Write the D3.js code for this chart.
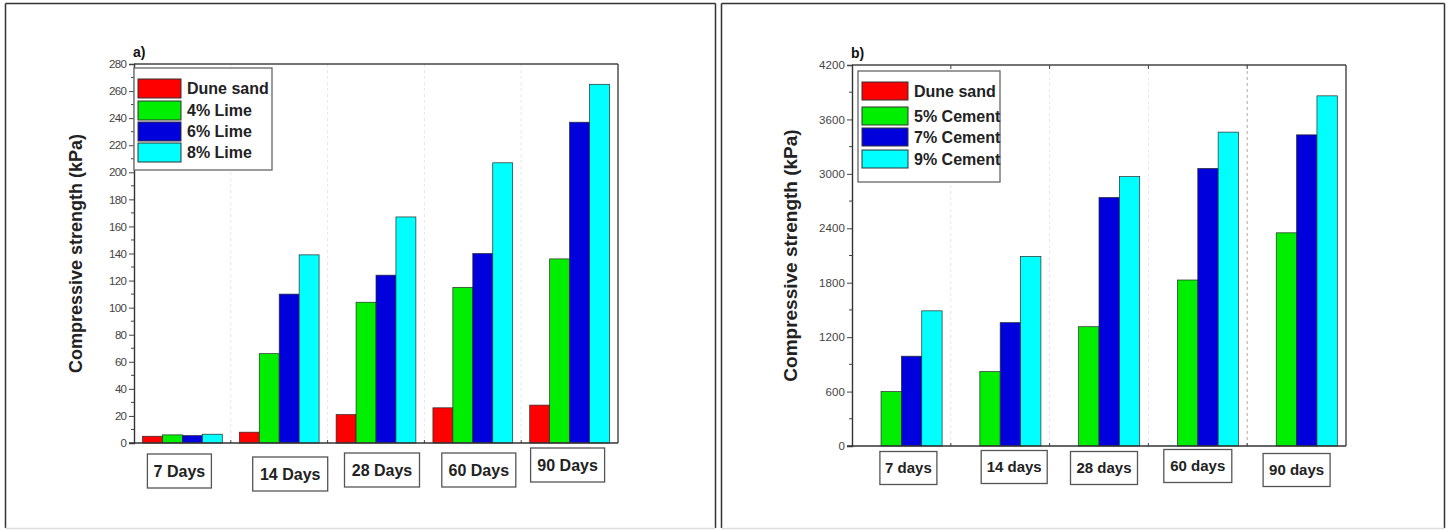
<!DOCTYPE html>
<html>
<head>
<meta charset="utf-8">
<script src="https://cdn.jsdelivr.net/npm/d3@7"></script>
<style>
  html, body { margin: 0; padding: 0; background: #fff; }
  svg { display: block; font-family: "Liberation Sans", Arial, sans-serif; }
</style>
</head>
<body>
<svg id="chart" width="1448" height="530"></svg>
<script>
// ---- Data ----
const limeAges = ["7 Days", "14 Days", "28 Days", "60 Days", "90 Days"];
const limeSeries = ["Dune sand", "4% Lime", "6% Lime", "8% Lime"];
const limeDuneSand = [5, 8, 21, 26, 28];
const lime4 = [6, 66, 104, 115, 136];
const lime6 = [5.5, 110, 124, 140, 237];
const lime8 = [6.5, 139, 167, 207, 265];
const limeTicks = [0, 20, 40, 60, 80, 100, 120, 140, 160, 180, 200, 220, 240, 260, 280];

const cementAges = ["7 days", "14 days", "28 days", "60 days", "90 days"];
const cementSeries = ["Dune sand", "5% Cement", "7% Cement", "9% Cement"];
const cementDuneSand = [0, 0, 0, 0, 0];
const cement5 = [600, 820, 1315, 1830, 2350];
const cement7 = [990, 1360, 2740, 3060, 3430];
const cement9 = [1490, 2090, 2970, 3460, 3860];
const cementTicks = [0, 600, 1200, 1800, 2400, 3000, 3600, 4200];

const seriesColors = ["#ff0000", "#00ee00", "#0000dd", "#00ffff"];

const svg = d3.select("#chart");

// Outer panel frames
function frame(x0, x1) {
  svg.append("line").attr("x1", x0).attr("x2", x1).attr("y1", 3.5).attr("y2", 3.5)
    .attr("stroke", "#333").attr("stroke-width", 1.5);
  svg.append("line").attr("x1", x0).attr("x2", x0).attr("y1", 3.5).attr("y2", 528)
    .attr("stroke", "#333").attr("stroke-width", 1.5);
  svg.append("line").attr("x1", x1).attr("x2", x1).attr("y1", 3.5).attr("y2", 528)
    .attr("stroke", "#333").attr("stroke-width", 1.5);
  svg.append("line").attr("x1", x0).attr("x2", x1).attr("y1", 528.5).attr("y2", 528.5)
    .attr("stroke", "#ddd").attr("stroke-width", 1.5);
}
frame(5.5, 715.5);
frame(721.5, 1444.5);

function drawPanel(cfg) {
  const { left, right, top, bottom, ages, series, values, ticks, maxY, minorStep } = cfg;
  const g = svg.append("g");

  const x0 = d3.scaleBand().domain(ages).range([left, right]).padding(0);
  const inset = x0.bandwidth() * 0.088;
  const x1 = d3.scaleBand().domain(series).range([inset, x0.bandwidth() - inset]).padding(0);
  const y = d3.scaleLinear().domain([0, maxY]).range([bottom, top]);

  // Group separators
  const bounds = ages.slice(1).map(a => x0(a));
  g.selectAll("line.sep").data(bounds).join("line")
    .attr("class", "sep")
    .attr("x1", d => d).attr("x2", d => d)
    .attr("y1", top).attr("y2", bottom)
    .attr("stroke", (d, i) => (cfg.darkSep === i ? "#aaa" : "#e6e6e6"))
    .attr("stroke-width", 1)
    .attr("stroke-dasharray", "3,3");

  // Bars
  const rows = [];
  ages.forEach((a, i) => series.forEach((s, j) => rows.push({ age: a, s, j, v: values[j][i] })));
  g.selectAll("rect.bar").data(rows.filter(d => d.v > 0)).join("rect")
    .attr("class", "bar")
    .attr("x", d => x0(d.age) + x1(d.s))
    .attr("y", d => y(d.v))
    .attr("width", x1.bandwidth())
    .attr("height", d => y(0) - y(d.v))
    .attr("fill", d => seriesColors[d.j])
    .attr("stroke", "#2a2a2a")
    .attr("stroke-width", 0.7);

  // Frame: top and right edges
  g.append("line").attr("x1", left).attr("x2", right).attr("y1", top).attr("y2", top)
    .attr("stroke", "#444").attr("stroke-width", 1.4);
  g.append("line").attr("x1", right).attr("x2", right).attr("y1", top).attr("y2", bottom)
    .attr("stroke", "#444").attr("stroke-width", 1.4);

  // Small ticks at group boundaries on bottom (and optionally top)
  g.selectAll("line.bt").data(bounds).join("line")
    .attr("x1", d => d).attr("x2", d => d)
    .attr("y1", bottom).attr("y2", bottom - 3)
    .attr("stroke", "#444").attr("stroke-width", 1);
  if (cfg.topTicks) {
    g.selectAll("line.tt").data(bounds).join("line")
      .attr("x1", d => d).attr("x2", d => d)
      .attr("y1", top).attr("y2", top + 4)
      .attr("stroke", "#444").attr("stroke-width", 1);
  }

  // Y axis: major ticks with labels
  const yAxis = d3.axisLeft(y).tickValues(ticks).tickSize(5).tickPadding(2).tickFormat(d3.format("d"));
  const ya = g.append("g").attr("transform", `translate(${left},0)`).call(yAxis);
  ya.select(".domain").attr("stroke", "#333").attr("stroke-width", 1.4);
  ya.selectAll(".tick line").attr("stroke", "#444");
  ya.selectAll(".tick text").attr("fill", "#444").style("font-size", cfg.tickFont + "px")
    .attr("textLength", cfg.tickTextLen ? (d => String(d).length * cfg.tickTextLen) : null);

  // Minor ticks
  const minor = d3.range(minorStep, maxY, minorStep * 2);
  g.selectAll("line.minor").data(minor).join("line")
    .attr("x1", left).attr("x2", left - 3)
    .attr("y1", d => y(d)).attr("y2", d => y(d))
    .attr("stroke", "#444").attr("stroke-width", 1);

  // X axis baseline
  g.append("line").attr("x1", left - 5).attr("x2", right).attr("y1", bottom).attr("y2", bottom)
    .attr("stroke", "#333").attr("stroke-width", 1.4);

  // Boxed category labels
  ages.forEach((a, i) => {
    const cx = x0(a) + x0.bandwidth() / 2 + cfg.labelDx[i];
    const cy = cfg.labelY + cfg.labelDy[i];
    const w = cfg.labelW[i], h = cfg.labelH;
    g.append("rect").attr("x", cx - w / 2).attr("y", cy - h / 2).attr("width", w).attr("height", h)
      .attr("fill", "#fff").attr("stroke", "#555").attr("stroke-width", 1.3);
    g.append("text").attr("x", cx).attr("y", cy + cfg.labelFont * 0.36)
      .attr("text-anchor", "middle").attr("fill", "#222")
      .style("font-size", cfg.labelFont + "px").style("font-weight", "bold")
      .text(a);
  });

  // Y axis title
  g.append("text")
    .attr("transform", `translate(${cfg.titleX},${(top + bottom) / 2}) rotate(-90)`)
    .attr("text-anchor", "middle").attr("fill", "#222")
    .style("font-size", cfg.titleFont + "px").style("font-weight", "bold")
    .text("Compressive strength (kPa)");

  // Panel letter
  g.append("text").attr("x", left - 1).attr("y", top - 7)
    .attr("fill", "#111").style("font-size", "14px").style("font-weight", "bold")
    .text(cfg.letter);

  // Legend
  const L = cfg.legend;
  g.append("rect").attr("x", L.x).attr("y", L.y).attr("width", L.w).attr("height", L.h)
    .attr("fill", "#fff").attr("stroke", "#666").attr("stroke-width", 1.3);
  series.forEach((s, j) => {
    const ry = L.y + L.first + L.rows[j];
    g.append("rect").attr("x", L.x + 4).attr("y", ry).attr("width", L.sw).attr("height", L.sh)
      .attr("fill", seriesColors[j]).attr("stroke", "#333").attr("stroke-width", 1);
    g.append("text").attr("x", L.x + 4 + L.sw + 6).attr("y", ry + L.sh / 2 + 5.5)
      .attr("fill", "#222").style("font-size", L.font + "px").style("font-weight", "bold")
      .text(s);
  });
}

drawPanel({
  letter: "a)",
  left: 134, right: 618, top: 64, bottom: 443,
  ages: limeAges, series: limeSeries,
  values: [limeDuneSand, lime4, lime6, lime8],
  ticks: limeTicks, maxY: 280, minorStep: 10,
  tickFont: 11.5, tickTextLen: 6,
  titleX: 82, titleFont: 18,
  labelY: 471, labelDy: [0, 3, -1, -1, -6], labelDx: [-3, 11, 6, 6, -2],
  labelW: [64, 75, 75, 74, 74], labelH: 34, labelFont: 16,
  legend: { x: 134, y: 68, w: 138, h: 102, first: 11, rows: [0, 22, 43, 64], sw: 43, sh: 19, font: 16 }
});

drawPanel({
  letter: "b)",
  left: 852, right: 1346, top: 65, bottom: 446,
  ages: cementAges, series: cementSeries,
  values: [cementDuneSand, cement5, cement7, cement9],
  ticks: cementTicks, maxY: 4200, minorStep: 300,
  tickFont: 11.5, tickTextLen: 6.5,
  topTicks: true, darkSep: 3,
  titleX: 797, titleFont: 19,
  labelY: 468, labelDy: [0, -1, 0, -2, 2], labelDx: [7, 14, 5, 0, 0],
  labelW: [57, 66, 67, 68, 67], labelH: 33, labelFont: 15,
  legend: { x: 858, y: 71, w: 142, h: 111, first: 11, rows: [0, 25, 46, 68], sw: 46, sh: 18, font: 16 }
});
</script>
</body>
</html>
